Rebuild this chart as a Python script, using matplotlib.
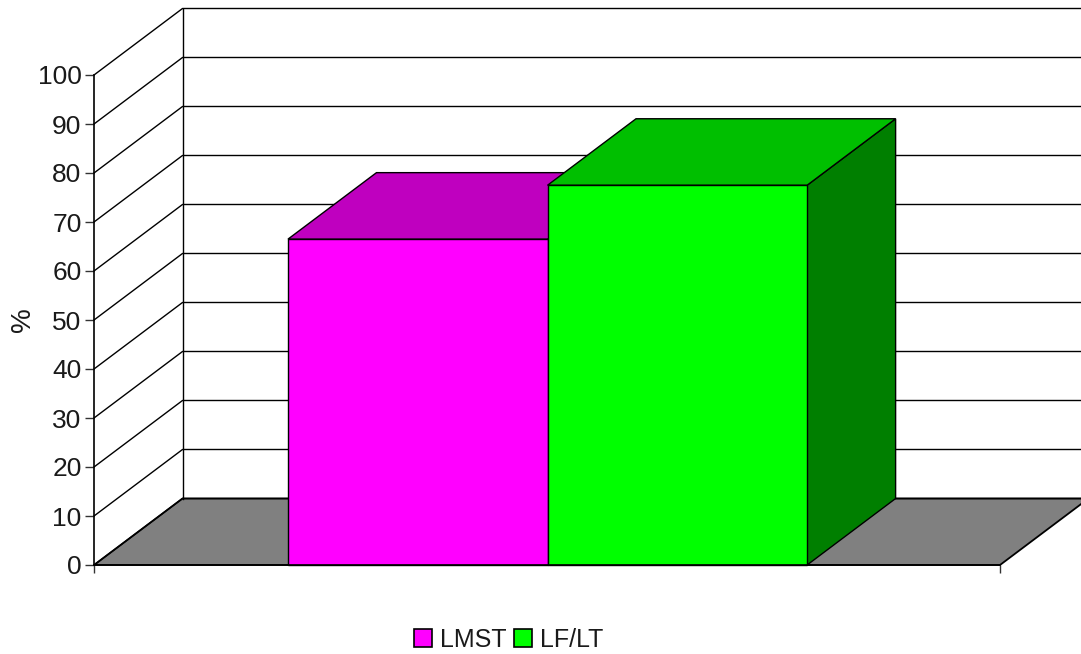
#!/usr/bin/env python3

import matplotlib as mpl

mpl.use("Agg")
import matplotlib.pyplot as plt
from matplotlib.patches import Patch, Polygon

categories = ["LMST", "LF/LT"]
values = [66.5, 77.5]
bar_left = [0.2141, 0.5006]
bar_width = 0.2865
colors_front = ["#ff00ff", "#00ff00"]
colors_top = ["#bf00bf", "#00bf00"]
colors_side = ["#7f007f", "#007f00"]
yticks = [0, 10, 20, 30, 40, 50, 60, 70, 80, 90, 100]

# depth of the fake 3D box in data units
DX = 88.5 / 906
DY = 66.5 / 4.9


def main():
    plt.rcParams["font.family"] = ["Liberation Sans", "DejaVu Sans"]
    fig = plt.figure(figsize=(10.81, 6.54), dpi=100)
    ax = fig.add_axes([0, 0, 1, 1])
    ax.set_xlim(-94 / 906, 987 / 906)
    ax.set_ylim(-89 / 4.9, 565 / 4.9)
    ax.patch.set_visible(False)

    draw_walls(ax)
    for i in range(len(categories)):
        draw_bar(ax, i)
    style_axes(ax)

    handles = [
        Patch(facecolor=c, edgecolor="k", linewidth=1.2, label=n)
        for c, n in zip(colors_front, categories)
    ]
    ax.legend(
        handles=handles,
        ncol=2,
        loc="center",
        bbox_to_anchor=(508.5 / 1081, 1 - 640 / 654),
        frameon=False,
        fontsize=18,
        labelcolor="#1a1a1a",
        handlelength=0.72,
        handleheight=0.72,
        handletextpad=0.32,
        columnspacing=0.28,
        borderpad=0,
        borderaxespad=0,
    )
    fig.text(23 / 1081, 1 - 320 / 654, "%", rotation=90, ha="center", va="center",
             fontsize=20, color="#1a1a1a")
    fig.savefig("out.png", dpi=100)


def draw_walls(ax):
    floor = [(0, 0), (DX, DY), (1 + DX, DY), (1, 0)]
    ax.add_patch(Polygon(floor, closed=True, facecolor="#808080", edgecolor="k", lw=1.3, zorder=1))
    ax.plot([DX, DX], [DY, 100 + DY], color="k", lw=1, zorder=1)
    for y in yticks:
        ax.plot([0, DX, 1 + DX], [y, y + DY, y + DY], color="k", lw=1, zorder=1)


def draw_bar(ax, i):
    x0 = bar_left[i]
    x1 = x0 + bar_width
    y = values[i]
    front = [(x0, 0), (x1, 0), (x1, y), (x0, y)]
    top = [(x0, y), (x1, y), (x1 + DX, y + DY), (x0 + DX, y + DY)]
    side = [(x1, 0), (x1 + DX, DY), (x1 + DX, y + DY), (x1, y)]
    for pts, color in [(side, colors_side[i]), (top, colors_top[i]), (front, colors_front[i])]:
        ax.add_patch(Polygon(pts, closed=True, facecolor=color, edgecolor="k", lw=1, zorder=2 + i))


def style_axes(ax):
    ax.spines[["top", "right"]].set_visible(False)
    ax.spines["left"].set_position(("data", 0))
    ax.spines["left"].set_bounds(0, 100)
    ax.spines["left"].set_linewidth(1.2)
    ax.spines["bottom"].set_position(("data", 0))
    ax.spines["bottom"].set_bounds(0, 1)
    ax.spines["bottom"].set_linewidth(1.2)
    ax.spines["bottom"].set_zorder(6)
    ax.set_yticks(yticks)
    ax.set_xticks([0, 1])
    ax.set_xticklabels([])
    ax.tick_params(axis="y", length=6.5, width=1, labelsize=19, pad=2.5,
                   labelcolor="#1a1a1a", color="#333333")
    ax.tick_params(axis="x", length=6, width=1, color="#333333")


if __name__ == "__main__":
    main()
